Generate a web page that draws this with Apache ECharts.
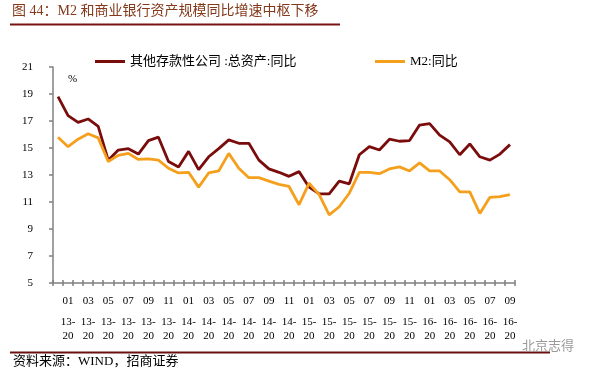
<!DOCTYPE html>
<html>
<head>
<meta charset="utf-8">
<script src="https://cdn.jsdelivr.net/npm/echarts@6/dist/echarts.min.js"></script>
<style>html,body{margin:0;padding:0;background:#fff;}#c{width:595px;height:372px;}</style>
</head>
<body>
<div id="c"></div>
<script>
// Category labels as shown on the axis (2012-12 ... 2016-09)
var categories = [
 '2012-12','2013-01','2013-02','2013-03','2013-04','2013-05','2013-06','2013-07','2013-08','2013-09','2013-10','2013-11','2013-12',
 '2014-01','2014-02','2014-03','2014-04','2014-05','2014-06','2014-07','2014-08','2014-09','2014-10','2014-11','2014-12',
 '2015-01','2015-02','2015-03','2015-04','2015-05','2015-06','2015-07','2015-08','2015-09','2015-10','2015-11','2015-12',
 '2016-01','2016-02','2016-03','2016-04','2016-05','2016-06','2016-07','2016-08','2016-09'
];
var seriesNames = ['其他存款性公司 :总资产:同比', 'M2:同比'];
var otherDepositAssets = [
 18.8,17.4,16.9,17.15,16.6,14.1,14.85,14.95,14.55,15.55,15.8,14.0,13.6,14.75,13.4,14.35,14.95,15.6,15.35,15.35,
 14.1,13.45,13.2,12.9,13.25,12.1,11.6,11.6,12.55,12.35,14.5,15.1,14.85,15.65,15.5,15.55,16.7,16.8,15.95,15.45,
 14.5,15.3,14.35,14.1,14.55,15.25
];
var m2 = [
 15.8,15.1,15.65,16.05,15.75,14.0,14.45,14.6,14.15,14.2,14.1,13.5,13.15,13.2,12.1,13.15,13.3,14.6,13.5,12.8,
 12.8,12.55,12.3,12.15,10.8,12.4,11.55,10.05,10.65,11.65,13.2,13.2,13.1,13.45,13.6,13.3,13.9,13.3,13.3,12.65,
 11.75,11.75,10.15,11.35,11.4,11.55
];
var yMin = 5, yMax = 21, yStep = 2;

var chart = echarts.init(document.getElementById('c'), null, {renderer: 'canvas'});
var serif = '"Liberation Serif","Noto Sans CJK SC",serif';
var option = {
  backgroundColor: '#ffffff',
  animation: false,
  grid: {left: 53, right: 80, top: 67, bottom: 89, containLabel: false},
  legend: [
    {data: [seriesNames[0]], left: 90, top: 50, icon: 'rect', itemWidth: 30, itemHeight: 3, itemGap: 0,
     textStyle: {fontFamily: serif, fontSize: 13, color: '#000'}},
    {data: [seriesNames[1]], left: 370, top: 50, icon: 'rect', itemWidth: 30, itemHeight: 3, itemGap: 0,
     textStyle: {fontFamily: serif, fontSize: 13, color: '#000'}}
  ],
  xAxis: [
    {type: 'category', data: categories, boundaryGap: true,
     axisLine: {show: true, lineStyle: {color: '#808080', width: 1.5}},
     axisTick: {show: true, interval: 0, length: 3, lineStyle: {color: '#808080', width: 1.5}},
     axisLabel: {
       interval: function (i) { return i % 2 === 1; },
       margin: 5,
       formatter: function (v) {
         var p = v.split('-');
         return '{a|' + p[1] + '}\n{b|' + p[0].slice(2) + '-}\n{b|' + p[0].slice(0, 2) + '}';
       },
       rich: {
         a: {fontFamily: serif, fontSize: 11, lineHeight: 27, color: '#000'},
         b: {fontFamily: serif, fontSize: 11, lineHeight: 14, color: '#000'}
       }
     }
    },
    {type: 'category', data: categories, boundaryGap: true, position: 'bottom',
     axisLine: {show: false},
     axisTick: {show: true, inside: true, interval: 0, length: 3, lineStyle: {color: '#808080', width: 1.5}},
     axisLabel: {show: false}
    }
  ],
  yAxis: {
    type: 'value', min: yMin, max: yMax, interval: yStep,
    splitLine: {show: false},
    axisLine: {show: true, lineStyle: {color: '#808080', width: 1.5}},
    axisTick: {show: true, length: 4, lineStyle: {color: '#808080', width: 1.5}},
    axisLabel: {margin: 20, fontFamily: serif, fontSize: 11, color: '#000'}
  },
  series: [
    {name: seriesNames[0], type: 'line', data: otherDepositAssets, symbol: 'none', xAxisIndex: 0,
     lineStyle: {color: '#7A0C0C', width: 2.8}, itemStyle: {color: '#7A0C0C'}},
    {name: seriesNames[1], type: 'line', data: m2, symbol: 'none', xAxisIndex: 0,
     lineStyle: {color: '#F5A01C', width: 2.8}, itemStyle: {color: '#F5A01C'}}
  ],
  graphic: [
    {type: 'text', left: 12, top: 4, style: {text: '图 44：M2 和商业银行资产规模同比增速中枢下移',
      font: '14px "Liberation Serif","Noto Sans CJK SC",serif', fill: '#83391A'}},
    {type: 'line', shape: {x1: 10, y1: 24.5, x2: 340, y2: 24.5}, style: {stroke: '#7A1414', lineWidth: 2}},
    {type: 'text', left: 68, top: 74, style: {text: '%', font: '11px "Liberation Serif",serif', fill: '#000'}},
    {type: 'line', shape: {x1: 10, y1: 352.5, x2: 550, y2: 352.5}, style: {stroke: '#6B1010', lineWidth: 2}},
    {type: 'text', left: 13, top: 355, style: {text: '资料来源：WIND，招商证券',
      font: '13px "Liberation Serif","Noto Sans CJK SC",serif', fill: '#000'}},
    {type: 'text', left: 522, top: 339, style: {text: '北京志得',
      font: '13px "Noto Sans CJK SC",sans-serif', fill: '#9a9a9a'}}
  ]
};
chart.setOption(option);
</script>
</body>
</html>
